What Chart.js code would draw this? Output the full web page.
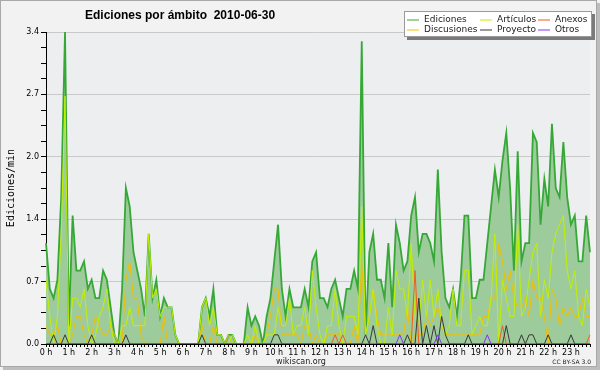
<!DOCTYPE html>
<html><head><meta charset="utf-8">
<script src="https://cdn.jsdelivr.net/npm/chart.js@4/dist/chart.umd.min.js"></script>
<style>html,body{margin:0;padding:0;background:#f2f2f2;overflow:hidden}canvas{display:block}</style>
</head><body>
<canvas id="c" width="600" height="370"></canvas>
<script>
// ---------- data ----------
const titleText = 'Ediciones por ámbito  2010-06-30';
const yAxisTitle = 'Ediciones/min';
const footerCenter = 'wikiscan.org';
const footerRight = 'CC BY-SA 3.0';
const hourLabels = ['0 h','1 h','2 h','3 h','4 h','5 h','6 h','7 h','8 h','9 h','10 h','11 h',
  '12 h','13 h','14 h','15 h','16 h','17 h','18 h','19 h','20 h','21 h','22 h','23 h'];
const slotMinutes = [0,10,20,30,40,50];
// categories: 10-minute slots of the day
const categories = [];
hourLabels.forEach((h, hi) => slotMinutes.forEach(m => categories.push(hi + ':' + String(m).padStart(2,'0'))));

const yMajorTicks = [0, 0.68, 1.36, 2.04, 2.72, 3.4];
const yMajorLabels = ['0.0','0.7','1.4','2.0','2.7','3.4'];
const yMinorTicks = [0.17,0.34,0.51,0.85,1.02,1.19,1.53,1.70,1.87,2.21,2.38,2.55,2.89,3.06,3.23];

const seriesNames = ['Ediciones','Artículos','Anexos','Discusiones','Proyecto','Otros'];

const ediciones = [
 1.1,0.6,0.5,0.7,1.6,3.4,0.2,1.4,0.8,0.8,0.9,0.6,
 0.7,0.5,0.5,0.8,0.7,0.4,0.1,0.0,0.6,1.7,1.5,1.0,
 0.8,0.6,0.3,1.2,0.5,0.7,0.3,0.5,0.4,0.4,0.1,0.0,
 0.0,0.0,0.0,0.0,0.0,0.4,0.5,0.3,0.6,0.1,0.1,0.0,
 0.1,0.1,0.0,0.0,0.0,0.4,0.2,0.3,0.2,0.0,0.3,0.5,
 0.9,1.3,0.6,0.3,0.6,0.4,0.4,0.4,0.6,0.4,0.9,1.0,
 0.5,0.5,0.4,0.6,0.7,0.5,0.3,0.6,0.6,0.8,0.6,3.3,
 0.1,1.0,1.2,0.7,0.7,0.5,1.1,0.4,1.3,1.1,0.8,0.9,
 1.4,1.6,1.0,1.2,1.2,1.1,0.9,1.9,1.0,0.5,0.4,0.6,
 0.3,0.7,1.4,1.4,0.5,0.5,0.7,0.7,1.1,1.5,1.9,1.6,
 2.0,2.3,1.7,0.8,2.1,0.9,1.1,1.1,2.3,2.2,1.3,1.8,
 1.5,2.4,1.7,1.6,2.2,1.6,1.3,1.4,0.9,0.9,1.4,1.0];

const articulos = [
 0.7,0.3,0.0,0.3,1.2,2.7,0.0,0.5,0.5,0.4,0.6,0.2,
 0.0,0.1,0.3,0.4,0.6,0.2,0.0,0.0,0.2,0.2,0.4,0.2,
 0.2,0.2,0.2,1.2,0.5,0.6,0.3,0.4,0.4,0.4,0.1,0.0,
 0.0,0.0,0.0,0.0,0.0,0.4,0.5,0.2,0.4,0.1,0.1,0.0,
 0.0,0.1,0.0,0.0,0.0,0.1,0.0,0.2,0.0,0.0,0.1,0.1,
 0.1,0.4,0.2,0.2,0.5,0.1,0.2,0.2,0.4,0.1,0.8,0.4,
 0.1,0.0,0.2,0.2,0.6,0.2,0.0,0.3,0.3,0.3,0.1,1.5,
 0.1,0.3,0.6,0.2,0.0,0.0,0.4,0.1,0.8,0.6,0.6,0.3,
 1.1,0.3,0.2,0.7,0.3,0.7,0.3,0.6,0.2,0.1,0.2,0.6,
 0.2,0.2,0.8,0.8,0.1,0.2,0.3,0.2,0.2,0.5,1.2,0.0,
 0.7,0.5,0.3,0.3,1.3,0.3,0.4,0.7,1.0,1.1,0.3,0.7,
 0.5,1.0,1.2,1.3,1.4,0.8,0.6,0.8,0.3,0.2,0.6,0.4];

const anexos = [
 0,0,0,0,0,0,0,0,0,0,0,0,
 0,0,0,0,0,0,0,0,0,0,0,0,
 0,0,0,0,0,0,0,0,0,0,0,0,
 0,0,0,0,0,0,0,0,0,0,0,0,
 0,0,0,0,0,0,0,0,0,0,0,0,
 0,0,0,0,0,0,0,0,0,0,0,0,
 0,0,0,0,0.1,0,0.1,0,0,0,0,0,
 0,0,0,0,0,0,0,0,0,0,0,0,
 0,0.8,0,0,0,0,0,0,0,0,0,0,
 0,0,0,0,0,0,0,0,0,0,0,0,
 0.2,0,0,0,0,0,0,0,0,0,0,0,
 0,0,0,0,0,0,0,0,0,0,0,0.1];

const discusiones = [
 0.2,0.1,0.1,0.2,0.0,0.0,0.0,0.1,0.3,0.3,0.1,0.0,
 0.1,0.3,0.2,0.1,0.1,0.2,0.1,0.0,0.0,0.7,0.9,0.5,
 0.5,0.1,0.0,0.0,0.0,0.0,0.0,0.3,0.0,0.0,0.0,0.0,
 0.0,0.0,0.0,0.0,0.0,0.2,0.0,0.0,0.2,0.0,0.0,0.0,
 0.1,0.0,0.0,0.0,0.0,0.0,0.0,0.1,0.0,0.0,0.1,0.3,
 0.6,0.6,0.1,0.1,0.1,0.1,0.1,0.0,0.2,0.2,0.0,0.1,
 0.0,0.0,0.1,0.1,0.1,0.1,0.0,0.0,0.0,0.2,0.0,0.9,
 0.1,0.3,0.6,0.3,0.1,0.1,0.1,0.1,0.1,0.1,0.1,0.4,
 0.0,0.1,0.1,0.1,0.3,0.2,0.3,0.4,0.2,0.1,0.1,0.1,
 0.1,0.1,0.1,0.1,0.1,0.1,0.1,0.3,0.3,0.5,0.5,1.1,
 0.9,0.6,0.8,0.5,0.4,0.4,0.5,0.3,0.7,0.5,0.5,0.3,
 0.0,0.6,0.5,0.2,0.4,0.3,0.4,0.3,0.3,0.5,0.3,0.3];

const proyecto = [
 0,0,0.1,0,0,0.1,0,0,0,0,0,0,
 0.1,0,0,0,0,0,0,0,0,0.1,0,0,
 0,0,0,0,0,0,0,0,0,0,0,0,
 0,0,0,0,0,0.1,0,0,0,0,0,0,
 0,0,0,0,0,0,0,0,0,0,0,0,
 0.1,0.1,0,0,0,0,0,0,0,0,0,0,
 0,0,0,0,0,0,0,0,0,0,0,0,
 0.1,0,0.2,0,0,0,0,0,0,0,0,0.1,
 0,0,0.5,0,0.2,0,0.2,0,0.3,0.1,0,0,
 0,0,0,0.1,0,0,0,0,0,0,0,0,
 0,0.2,0,0,0,0.1,0,0.1,0.1,0,0,0,
 0.1,0,0,0,0,0,0.1,0,0,0,0,0];

const otros = [
 0,0,0,0,0,0,0,0,0,0,0,0,
 0,0,0,0,0,0,0,0,0,0,0,0,
 0,0,0,0,0,0,0,0,0,0,0,0,
 0,0,0,0,0,0,0,0,0,0,0,0,
 0,0,0,0,0,0,0,0,0,0,0,0,
 0,0,0,0,0,0,0,0,0,0,0,0,
 0,0,0,0,0,0,0,0,0,0,0,0,
 0,0,0,0,0,0,0,0,0,0.1,0,0,
 0,0,0,0,0,0,0,0.1,0,0,0,0,
 0,0,0,0,0,0,0,0,0.1,0,0,0,
 0,0,0,0,0,0,0,0,0,0,0,0,
 0,0,0,0,0,0,0,0,0,0,0,0];

// ---------- styles ----------
const seriesData = [ediciones, articulos, anexos, discusiones, proyecto, otros];
const seriesColors = ['#36a836','#c2f000','#f25c1c','#f2bf00','#383838','#8038f0'];
const seriesOrder = [10, 3, 2, 4, 1, 0];
const edicionesFill = '#9ecb9c';

const datasets = seriesNames.map((name, k) => ({
  label: name,
  data: seriesData[k],
  borderColor: seriesColors[k],
  backgroundColor: k === 0 ? edicionesFill : seriesColors[k],
  fill: k === 0 ? 'origin' : false,
  borderWidth: k === 0 ? 1.8 : 1,
  pointRadius: 0,
  pointHoverRadius: 0,
  tension: 0,
  order: seriesOrder[k]
}));

const near = (a, b) => Math.abs(a - b) < 1e-6;
const majorIndex = v => yMajorTicks.findIndex(t => near(t, v));

const decor = {
  id: 'decor',
  beforeDraw(chart) {
    const {ctx, chartArea: a, width, height} = chart;
    ctx.save();
    ctx.fillStyle = '#f2f2f2';
    ctx.fillRect(0, 0, width, height);
    ctx.fillStyle = '#eceef0';
    ctx.fillRect(a.left, a.top, a.right - a.left, a.bottom - a.top);
    ctx.restore();
  },
  afterDraw(chart) {
    const {ctx, width, height} = chart;
    ctx.save();
    // title
    ctx.fillStyle = '#000';
    ctx.font = 'bold 12px "Liberation Sans", Arial, sans-serif';
    ctx.textAlign = 'left';
    ctx.textBaseline = 'alphabetic';
    ctx.fillText(titleText, 85, 18.5);
    // legend
    const L = {x: 404, y: 11, w: 188, h: 26};
    ctx.fillStyle = '#7a7a7a';
    ctx.fillRect(L.x + 3, L.y + 3, L.w, L.h);
    ctx.fillStyle = '#ffffff';
    ctx.fillRect(L.x, L.y, L.w, L.h);
    ctx.strokeStyle = '#9a9a9a';
    ctx.lineWidth = 1;
    ctx.strokeRect(L.x + 0.5, L.y + 0.5, L.w - 1, L.h - 1);
    const colX = [407, 480, 538];
    const rowY = [19.5, 29.5];
    ctx.font = '9px "DejaVu Sans", sans-serif';
    ctx.textBaseline = 'middle';
    chart.data.datasets.forEach((ds, k) => {
      const cx = colX[k % 3], cy = rowY[Math.floor(k / 3)];
      ctx.strokeStyle = ds.borderColor;
      ctx.beginPath();
      ctx.moveTo(cx, cy + 0.5);
      ctx.lineTo(cx + 12, cy + 0.5);
      ctx.stroke();
      ctx.fillStyle = '#222';
      ctx.fillText(ds.label, cx + 17, cy);
    });
    // footers
    ctx.fillStyle = '#222';
    ctx.textBaseline = 'alphabetic';
    ctx.textAlign = 'center';
    ctx.font = '8px "DejaVu Sans", sans-serif';
    ctx.fillText(footerCenter, 301, 364);
    ctx.textAlign = 'right';
    ctx.font = '6px "DejaVu Sans", sans-serif';
    ctx.fillText(footerRight, 591, 364);
    // frame with shadow on right / bottom
    ctx.fillStyle = '#bdbdbd';
    ctx.fillRect(3, height - 3, width - 3, 3);
    ctx.fillRect(width - 3, 3, 3, height - 3);
    ctx.strokeStyle = '#a8a8a8';
    ctx.lineWidth = 1;
    ctx.strokeRect(0.5, 0.5, width - 4, height - 4);
    ctx.restore();
  }
};

new Chart(document.getElementById('c'), {
  type: 'line',
  data: { labels: categories, datasets },
  options: {
    responsive: false,
    animation: false,
    devicePixelRatio: 1,
    layout: { padding: { top: 32, right: 10, bottom: 0, left: 0 } },
    plugins: { legend: { display: false }, tooltip: { enabled: false }, title: { display: false } },
    scales: {
      x: {
        type: 'category',
        offset: false,
        border: { display: true, color: '#000', width: 1 },
        grid: { display: true, drawOnChartArea: false, drawTicks: true, tickLength: 3, tickColor: '#000', color: '#000' },
        ticks: {
          autoSkip: false, maxRotation: 0, minRotation: 0, padding: 1, color: '#000',
          font: { family: 'DejaVu Sans', size: 8 },
          callback: (v, i) => (i % slotMinutes.length === 0 ? hourLabels[i / slotMinutes.length] : '')
        },
        afterFit: s => { s.height = 26; }
      },
      y: {
        min: 0, max: 3.4,
        afterBuildTicks: s => {
          s.ticks = yMajorTicks.concat(yMinorTicks).sort((a, b) => a - b).map(v => ({ value: v }));
        },
        border: { display: true, color: '#000', width: 1 },
        grid: {
          color: c => (c.tick && majorIndex(c.tick.value) >= 0 ? '#c9c9c9' : 'rgba(0,0,0,0)'),
          tickColor: '#000', tickLength: 5, drawTicks: true
        },
        ticks: {
          autoSkip: false, padding: 2, color: '#000',
          font: { family: 'DejaVu Sans', size: 8 },
          callback: v => { const m = majorIndex(v); return m >= 0 ? yMajorLabels[m] : ''; }
        },
        title: {
          display: true, text: yAxisTitle, color: '#000',
          font: { family: 'DejaVu Sans Mono', size: 10 },
          padding: { top: 5, bottom: 0 }
        },
        afterFit: s => { s.width = 46; }
      }
    }
  },
  plugins: [decor]
});
</script>
</body></html>
